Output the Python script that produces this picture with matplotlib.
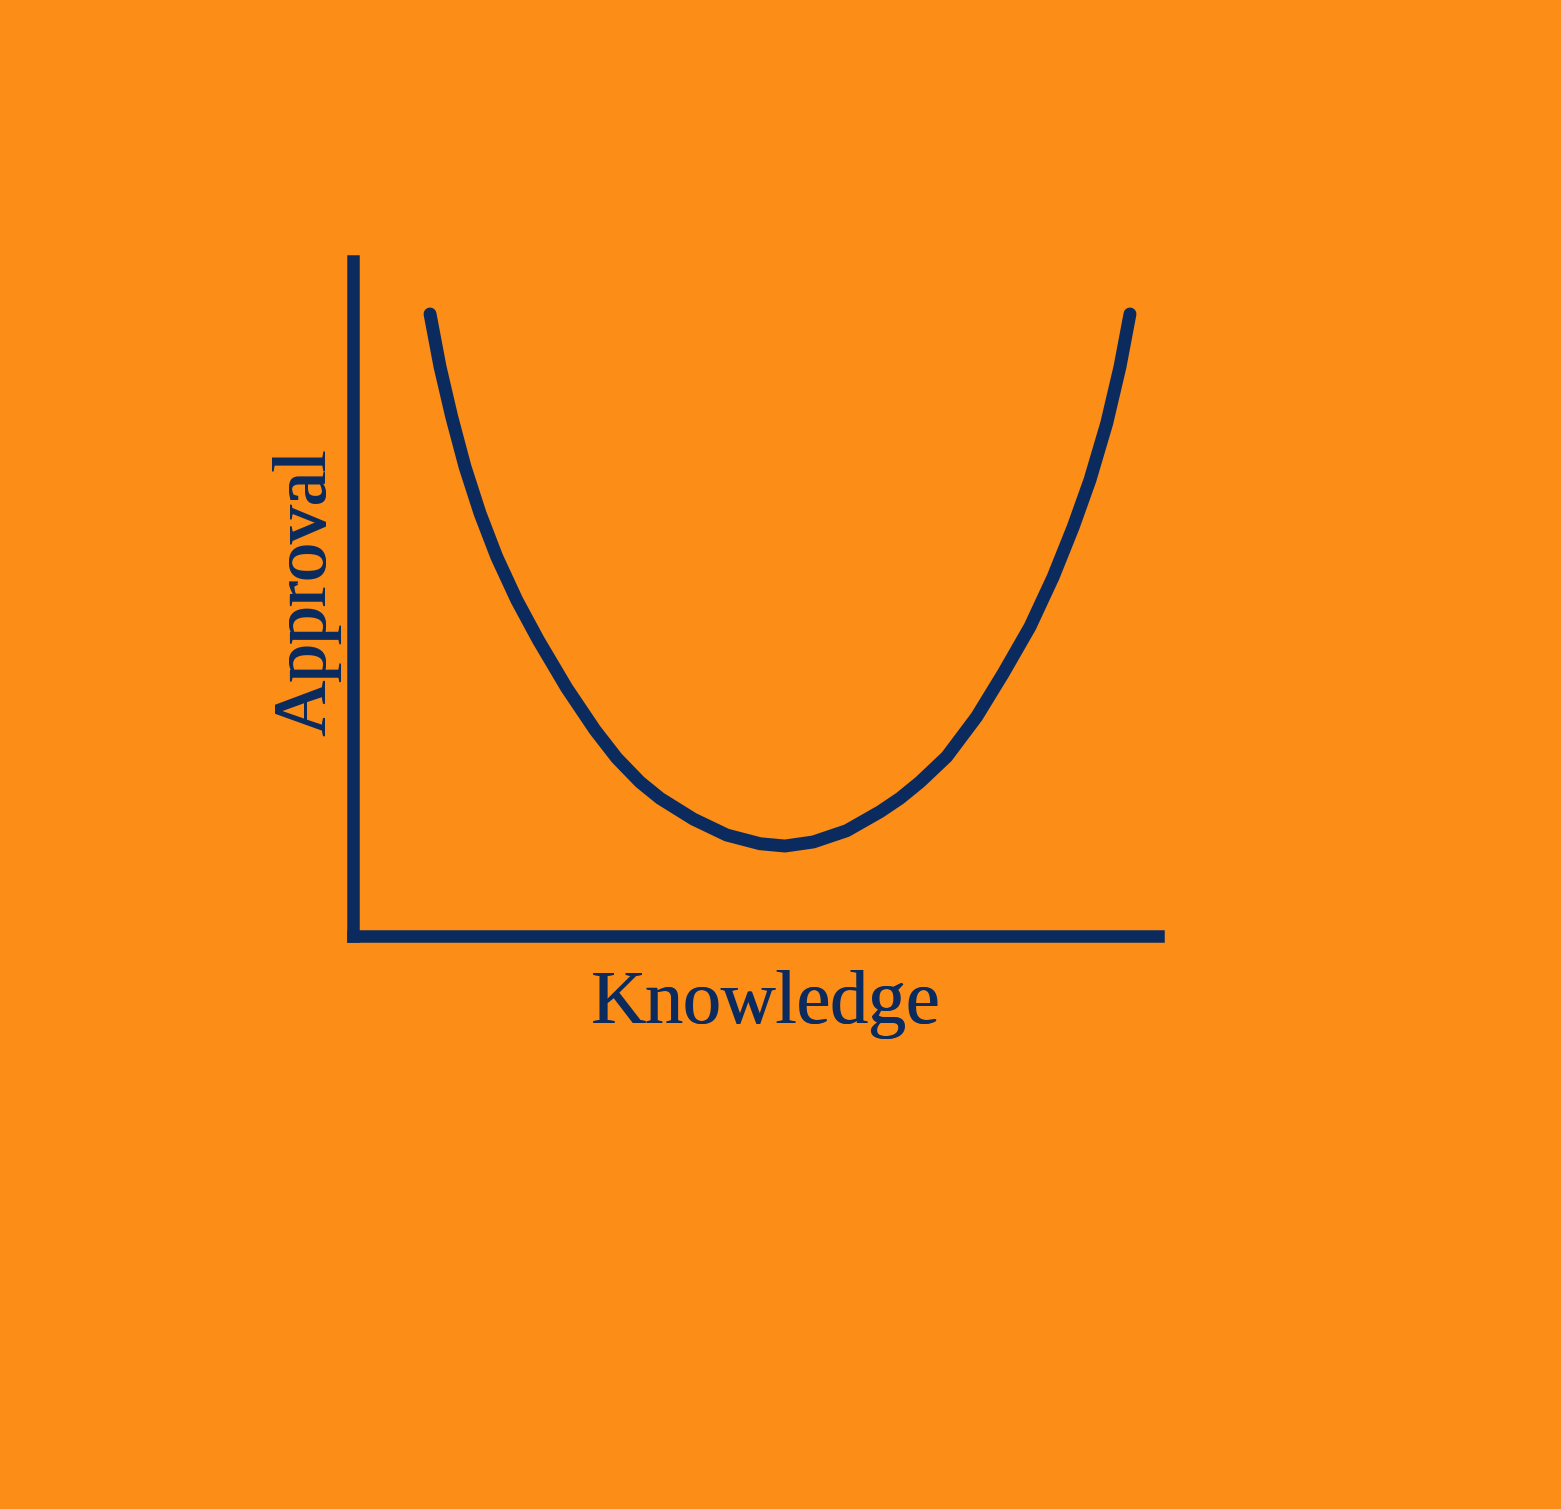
import matplotlib
matplotlib.use('Agg')
import matplotlib.pyplot as plt
from matplotlib.transforms import offset_copy

# curve (knowledge 0-100, approval 0-100)
knowledge = [9.57, 10.81, 12.26, 13.91, 15.78, 17.85, 20.34, 23.02, 26.55, 30.06,
             32.76, 35.65, 38.14, 42.27, 46.42, 50.56, 53.66, 57.18, 61.33, 65.47,
             67.95, 70.43, 73.75, 77.48, 80.78, 84.10, 86.99, 89.48, 91.55, 93.63,
             95.28, 96.52]
approval = [92.15, 84.34, 76.93, 69.53, 62.62, 56.19, 49.78, 43.85, 36.74, 30.52,
            26.37, 22.81, 20.40, 17.33, 14.96, 13.67, 13.33, 13.93, 15.60, 18.41,
            20.40, 22.81, 26.56, 32.49, 38.92, 45.82, 53.23, 60.64, 67.56, 75.96,
            84.34, 92.15]

x_label = 'Knowledge'
y_label = 'Approval'

bg = '#FC8D17'
navy = '#0B2B5E'

fig = plt.figure(figsize=(15.61, 15.09), dpi=100, facecolor=bg)
ax = fig.add_axes([353/1561, 1 - 936/1509, 805/1561, 675/1509])
ax.set_facecolor(bg)

ax.plot(knowledge, approval, color=navy, lw=9.3, solid_capstyle='round',
        solid_joinstyle='round')

ax.set_xlim(0, 100)
ax.set_ylim(0, 100)
ax.set_xticks([])
ax.set_yticks([])
for s in ['top', 'right']:
    ax.spines[s].set_visible(False)
for s in ['left', 'bottom']:
    ax.spines[s].set_color(navy)
    ax.spines[s].set_linewidth(9)

# draw labels twice, shifted a hair, so they look a bit heavier
for d in (-0.7, 0.7):
    tx = offset_copy(fig.transFigure, fig=fig, x=d, y=0, units='dots')
    fig.text(766/1561, 1 - 1023/1509, x_label, ha='center', va='baseline',
             fontsize=54.5, color=navy, family='Liberation Serif', transform=tx)
    ty = offset_copy(fig.transFigure, fig=fig, x=0, y=d, units='dots')
    fig.text(325/1561, 1 - 592/1509, y_label, rotation=90, rotation_mode='anchor',
             ha='center', va='baseline', fontsize=54.5, color=navy,
             family='Liberation Serif', transform=ty)

fig.savefig('out.png', facecolor=bg)
